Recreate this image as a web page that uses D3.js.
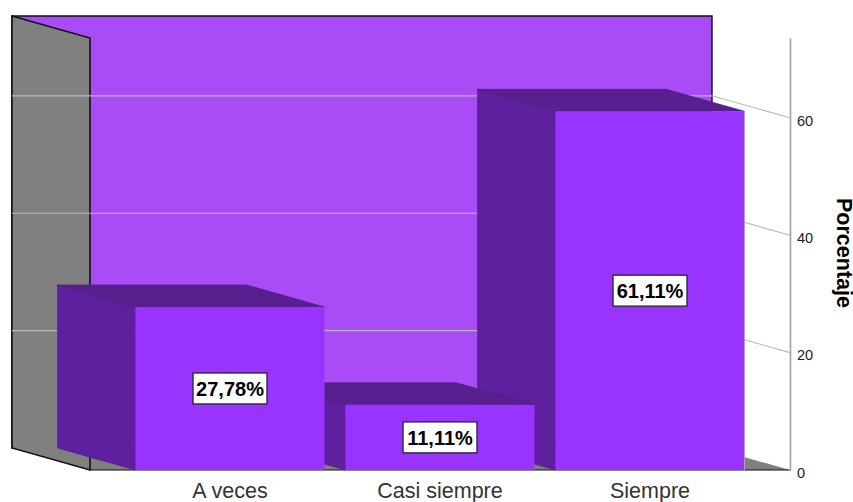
<!DOCTYPE html>
<html lang="es">
<head>
<meta charset="utf-8">
<title>Porcentaje</title>
<script src="https://cdn.jsdelivr.net/npm/d3@7/dist/d3.min.js"></script>
<style>
  html, body { margin: 0; padding: 0; background: #fff; }
  svg { display: block; }
  text { font-family: "Liberation Sans", Arial, sans-serif; }
</style>
</head>
<body>
<script>
const categories = ["A veces", "Casi siempre", "Siempre"];
const percentages = [27.78, 11.11, 61.11];
const axisTicks = [0, 20, 40, 60];
const axisTop = 73.6;
const axisTitle = "Porcentaje";

const width = 853, height = 502;
// Oblique offset from the front plane of the box to its back plane
const depthX = -78, depthY = -22;
const plotLeft = 90, plotRight = 790, plotBottom = 470, plotTop = 38;

const colors = {
  wall: "#a94cf5", side: "#808080", front: "#9933ff",
  barSide: "#5e209f", barTop: "#58208f", edge: "#111", grid: "#b9b9b9", axis: "#a0a0a0"
};

const y = d3.scaleLinear().domain([0, axisTop]).range([plotBottom, plotTop]);
const x = d3.scaleBand().domain(categories).range([125, 755])
  .paddingInner(0.1).paddingOuter(0.05);

const svg = d3.select("body").append("svg")
  .attr("width", width).attr("height", height).attr("viewBox", [0, 0, width, height]);

const poly = (pts) => "M" + pts.map(p => p.join(",")).join("L") + "Z";
const back = ([px, py]) => [px + depthX, py + depthY];

// Back wall, left wall and floor of the box
const backL = plotLeft + depthX, backR = plotRight + depthX;
const backT = y(axisTop) + depthY, backB = y(0) + depthY;

svg.append("path")
  .attr("d", poly([[backL, backT], [backR, backT], [backR, backB], [backL, backB]]))
  .attr("fill", colors.wall).attr("stroke", colors.edge).attr("stroke-width", 1.4);
svg.append("path")
  .attr("d", poly([[backL, backB], [backR, backB], [plotRight, plotBottom], [plotLeft, plotBottom]]))
  .attr("fill", colors.side);
svg.append("path")
  .attr("d", poly([[backL, backT], [plotLeft, plotTop], [plotLeft, plotBottom], [backL, backB]]))
  .attr("fill", colors.side).attr("stroke", colors.edge).attr("stroke-width", 1.6);
svg.append("line")
  .attr("x1", plotLeft).attr("x2", plotRight).attr("y1", plotBottom).attr("y2", plotBottom)
  .attr("stroke", colors.edge).attr("stroke-width", 1.2);

// Gridlines run across the walls and then forward to the axis
const gridTicks = axisTicks.filter(d => d > 0);
svg.append("g").selectAll("path").data(gridTicks).join("path")
  .attr("fill", "none").attr("stroke", colors.grid).attr("stroke-width", 1.1)
  .attr("d", d => `M${backL},${y(d) + depthY}L${backR},${y(d) + depthY}L${plotRight},${y(d)}`);

// Bars are painted back to front, rightmost first
const rows = categories.map((c, i) => ({ category: c, value: percentages[i] })).reverse();
const bars = svg.append("g").selectAll("g").data(rows).join("g");

const corners = d => {
  const l = x(d.category), r = l + x.bandwidth(), t = y(d.value), b = y(0);
  return { l, r, t, b };
};

bars.append("path")
  .attr("d", d => {
    const { l, t, b } = corners(d);
    return poly([back([l, t]), [l, t], [l, b], back([l, b])]);
  })
  .attr("fill", colors.barSide).attr("stroke", "#4d1a85").attr("stroke-width", 0.6);
bars.append("path")
  .attr("d", d => {
    const { l, r, t } = corners(d);
    return poly([back([l, t]), back([r, t]), [r, t], [l, t]]);
  })
  .attr("fill", colors.barTop).attr("stroke", "#4d1a85").attr("stroke-width", 0.6);
bars.append("rect")
  .attr("x", d => corners(d).l).attr("y", d => corners(d).t)
  .attr("width", x.bandwidth()).attr("height", d => corners(d).b - corners(d).t)
  .attr("fill", colors.front);
svg.append("line")
  .attr("x1", x("Siempre") + x.bandwidth()).attr("x2", x("Siempre") + x.bandwidth())
  .attr("y1", y(61.11)).attr("y2", y(0))
  .attr("stroke", "#b0a0c0").attr("stroke-width", 1);

// Value labels sit in boxes at the middle of each front face
const labelText = v => v.toFixed(2).replace(".", ",") + "%";
const labels = svg.append("g").selectAll("g").data(rows).join("g")
  .attr("transform", d => `translate(${x(d.category) + x.bandwidth() / 2},${y(d.value / 2)})`);
labels.append("rect")
  .attr("x", -37).attr("y", -15.5).attr("width", 74).attr("height", 31)
  .attr("fill", "#fff").attr("stroke", "#2a2a3a").attr("stroke-width", 1.4);
labels.append("text")
  .attr("text-anchor", "middle").attr("dy", "0.36em")
  .attr("font-size", 20).attr("font-weight", "bold").attr("fill", "#000")
  .text(d => labelText(d.value));

// Value axis on the front right edge
const axis = svg.append("g")
  .attr("transform", `translate(${plotRight},0)`)
  .call(d3.axisRight(y).tickValues(axisTicks).tickSize(0).tickPadding(7).tickFormat(d3.format("d")));
axis.select(".domain").attr("stroke", colors.axis).attr("stroke-width", 1.6);
axis.selectAll("text").attr("font-size", 14.5).attr("fill", "#222").attr("dy", "0.5em")
  .style("font-family", '"Liberation Sans", Arial, sans-serif');

// Category labels under the front edge
svg.append("g").selectAll("text").data(categories).join("text")
  .attr("x", d => x(d) + x.bandwidth() / 2).attr("y", 498)
  .attr("text-anchor", "middle").attr("font-size", 21.5).attr("fill", "#333")
  .text(d => d);

svg.append("text")
  .attr("transform", "translate(836.5,253) rotate(90)")
  .attr("text-anchor", "middle").attr("font-size", 21.5).attr("font-weight", "bold")
  .attr("fill", "#000").text(axisTitle);
</script>
</body>
</html>
